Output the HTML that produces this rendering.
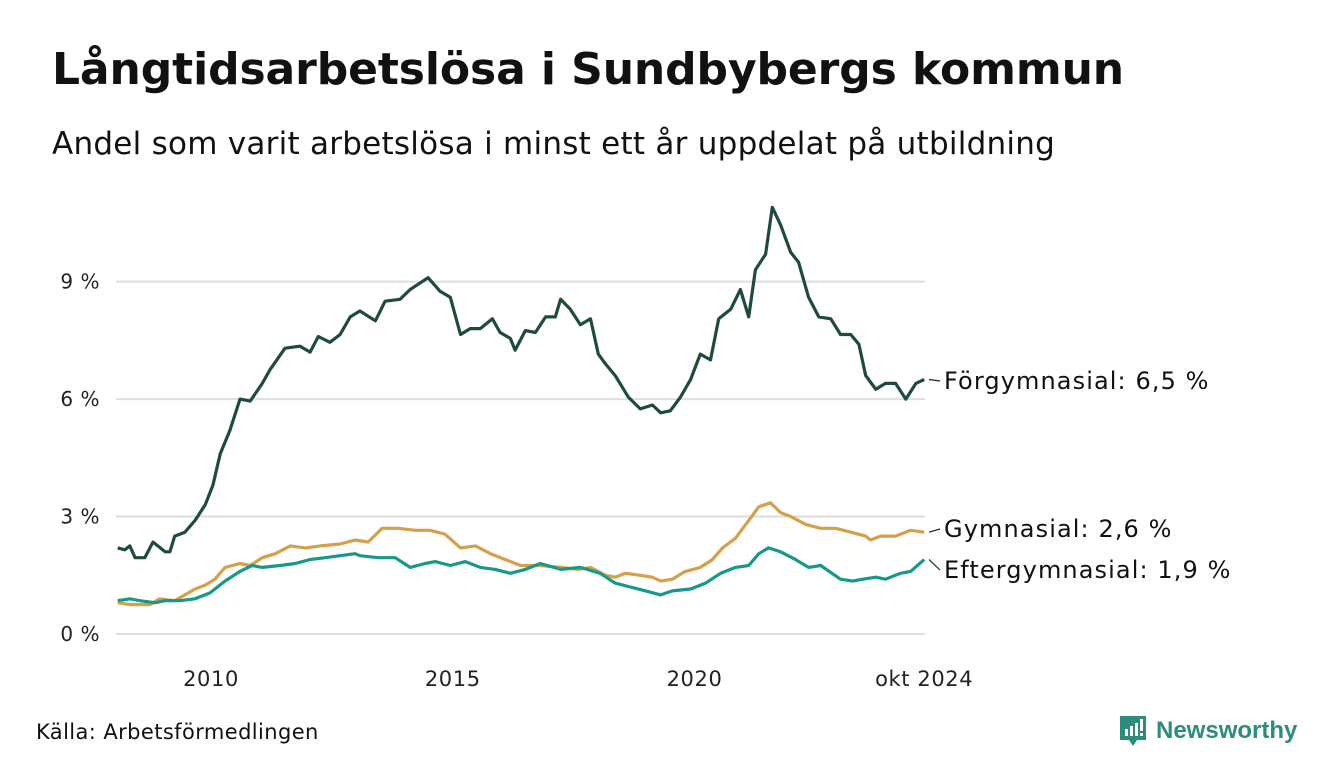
<!DOCTYPE html>
<html><head><meta charset="utf-8">
<style>
body{margin:0;background:#fff;font-family:"DejaVu Sans","Liberation Sans",sans-serif;}
#wrap{position:relative;width:1340px;height:780px;overflow:hidden;}
h1{position:absolute;left:52px;top:44px;margin:0;font-size:44px;font-weight:bold;color:#111;letter-spacing:-0.1px;white-space:nowrap;}
.sub{position:absolute;left:52px;top:126px;font-size:31px;color:#111;letter-spacing:0.25px;white-space:nowrap;}
.src{position:absolute;left:36px;top:720px;font-size:21px;color:#111;letter-spacing:0.4px;}
.logo{position:absolute;left:1118px;top:714px;}
</style></head><body>
<div id="wrap">
<h1>Långtidsarbetslösa i Sundbybergs kommun</h1>
<div class="sub">Andel som varit arbetslösa i minst ett år uppdelat på utbildning</div>
<svg id="chart" width="1340" height="780" style="position:absolute;left:0;top:0"></svg>
<div class="src">Källa: Arbetsförmedlingen</div>
<div class="logo">
<svg width="185" height="36">
<path d="M2 2h26v24h-9l-4 6-4-6H2z" fill="#2e8c7c"/>
<rect x="7" y="15" width="3" height="7" fill="#fff"/><rect x="12" y="12" width="3" height="10" fill="#fff"/><rect x="17" y="9" width="3" height="13" fill="#fff"/><rect x="22" y="5" width="3" height="12" fill="#fff"/><rect x="22" y="19" width="3" height="3" fill="#fff"/>
<text x="38" y="24" font-size="24" font-weight="bold" fill="#2e8c7c" font-family="Liberation Sans, sans-serif">Newsworthy</text>
</svg></div>
</div>
<script>
const forDates=[2008.07,2008.22,2008.32,2008.43,2008.63,2008.80,2009.05,2009.15,2009.25,2009.46,2009.67,2009.88,2010.04,2010.19,2010.39,2010.60,2010.81,2011.06,2011.22,2011.53,2011.84,2012.05,2012.22,2012.46,2012.67,2012.88,2013.08,2013.40,2013.60,2013.91,2014.12,2014.49,2014.74,2014.95,2015.16,2015.36,2015.57,2015.82,2015.98,2016.19,2016.29,2016.50,2016.71,2016.92,2017.12,2017.23,2017.43,2017.64,2017.85,2018.01,2018.16,2018.36,2018.63,2018.88,2019.13,2019.30,2019.50,2019.71,2019.92,2020.12,2020.33,2020.50,2020.75,2020.95,2021.12,2021.26,2021.47,2021.61,2021.78,2021.99,2022.15,2022.36,2022.57,2022.82,2023.02,2023.23,2023.40,2023.54,2023.75,2023.95,2024.16,2024.37,2024.58,2024.75];
const forValues=[2.2,2.15,2.25,1.95,1.95,2.35,2.1,2.1,2.5,2.6,2.9,3.3,3.8,4.6,5.2,6.0,5.95,6.4,6.75,7.3,7.35,7.2,7.6,7.45,7.65,8.1,8.25,8.0,8.5,8.55,8.8,9.1,8.75,8.6,7.65,7.8,7.8,8.05,7.7,7.55,7.25,7.75,7.7,8.1,8.1,8.55,8.3,7.9,8.05,7.15,6.9,6.6,6.05,5.75,5.85,5.65,5.7,6.05,6.5,7.15,7.0,8.05,8.3,8.8,8.1,9.3,9.7,10.9,10.45,9.75,9.5,8.6,8.1,8.05,7.65,7.65,7.4,6.6,6.25,6.4,6.4,6.0,6.4,6.5];
const gymDates=[2008.07,2008.32,2008.74,2008.94,2009.25,2009.46,2009.67,2009.88,2010.08,2010.29,2010.60,2010.81,2011.06,2011.33,2011.64,2011.95,2012.26,2012.67,2012.98,2013.25,2013.54,2013.87,2014.22,2014.53,2014.84,2015.16,2015.47,2015.78,2016.09,2016.40,2016.81,2017.23,2017.60,2017.85,2018.16,2018.36,2018.57,2018.88,2019.13,2019.30,2019.54,2019.81,2020.12,2020.37,2020.58,2020.85,2021.12,2021.33,2021.57,2021.78,2021.99,2022.30,2022.61,2022.92,2023.23,2023.54,2023.64,2023.85,2024.16,2024.47,2024.75];
const gymValues=[0.8,0.75,0.75,0.9,0.85,1.0,1.15,1.25,1.4,1.7,1.8,1.75,1.95,2.05,2.25,2.2,2.25,2.3,2.4,2.35,2.7,2.7,2.65,2.65,2.55,2.2,2.25,2.05,1.9,1.75,1.75,1.7,1.65,1.7,1.5,1.45,1.55,1.5,1.45,1.35,1.4,1.6,1.7,1.9,2.2,2.45,2.9,3.25,3.35,3.1,3.0,2.8,2.7,2.7,2.6,2.5,2.4,2.5,2.5,2.65,2.6];
const eftDates=[2008.07,2008.32,2008.53,2008.84,2009.05,2009.36,2009.67,2009.98,2010.29,2010.60,2010.85,2011.06,2011.43,2011.74,2012.05,2012.36,2012.67,2012.98,2013.08,2013.46,2013.81,2014.12,2014.43,2014.64,2014.95,2015.26,2015.57,2015.88,2016.19,2016.50,2016.81,2017.23,2017.64,2018.05,2018.36,2018.67,2018.99,2019.30,2019.54,2019.92,2020.23,2020.54,2020.85,2021.12,2021.33,2021.53,2021.78,2022.09,2022.36,2022.61,2023.02,2023.27,2023.48,2023.75,2023.95,2024.26,2024.47,2024.75];
const eftValues=[0.85,0.9,0.85,0.8,0.85,0.85,0.9,1.05,1.35,1.6,1.75,1.7,1.75,1.8,1.9,1.95,2.0,2.05,2.0,1.95,1.95,1.7,1.8,1.85,1.75,1.85,1.7,1.65,1.55,1.65,1.8,1.65,1.7,1.55,1.3,1.2,1.1,1.0,1.1,1.15,1.3,1.55,1.7,1.75,2.05,2.2,2.1,1.9,1.7,1.75,1.4,1.35,1.4,1.45,1.4,1.55,1.6,1.9];
const yTicks=[0,3,6,9];
const xTicks=[2010,2015,2020,2024.75];
const xTickLabels=["2010","2015","2020","okt 2024"];
const seriesNames=["Förgymnasial","Gymnasial","Eftergymnasial"];

const NS="http://www.w3.org/2000/svg";
const svg=document.getElementById('chart');
const FONT='DejaVu Sans, Liberation Sans, sans-serif';
const X=y=>211+(y-2010)*48.35;
const Y=v=>634-v*39.15;
function mk(tag,attrs,parent){const e=document.createElementNS(NS,tag);for(const k in attrs)e.setAttribute(k,attrs[k]);(parent||svg).appendChild(e);return e;}
yTicks.forEach(t=>{
  const l=mk('line',{x1:116,x2:925,y1:Y(t),y2:Y(t),stroke:'#dddde3','stroke-width':2});
  
  
  const tx=mk('text',{x:100,y:Y(t)+7,'text-anchor':'end','font-size':20,fill:'#222','font-family':FONT,'letter-spacing':0.5});
  tx.textContent=t+' %';
  
  
});
xTicks.forEach((t,i)=>{
  const tx=mk('text',{x:X(t),y:686,'text-anchor':'middle','font-size':21,fill:'#222','font-family':FONT,'letter-spacing':0.6});
  tx.textContent=xTickLabels[i];
  
  
});
const series=[[gymDates,gymValues,'#d4a04a'],[eftDates,eftValues,'#17998a'],[forDates,forValues,'#1f4a42']];
const names=['gymnasial-line','eftergymnasial-line','forgymnasial-line'];
series.forEach((s,i)=>{
  const d=s[0].map((t,j)=>(j?'L':'M')+X(t).toFixed(1)+' '+Y(s[1][j]).toFixed(1)).join('');
  const p=mk('path',{d:d,fill:'none',stroke:s[2],'stroke-width':3.2,'stroke-linejoin':'round'});
  
  
});
const labs=[[forValues[forValues.length-1],381,seriesNames[0]],[gymValues[gymValues.length-1],529,seriesNames[1]],[eftValues[eftValues.length-1],570,seriesNames[2]]];
labs.forEach(l=>{
  const yv=Y(l[0]);
  mk('line',{x1:929,y1:yv,x2:940,y2:l[1],stroke:'#222','stroke-width':1.2});
  const tx=mk('text',{x:944,y:l[1]+8,'font-size':24,fill:'#111','font-family':FONT,'letter-spacing':1.1});
  tx.textContent=l[2]+': '+l[0].toFixed(1).replace('.',',')+' %';
  
  
});
</script>
</body></html>
